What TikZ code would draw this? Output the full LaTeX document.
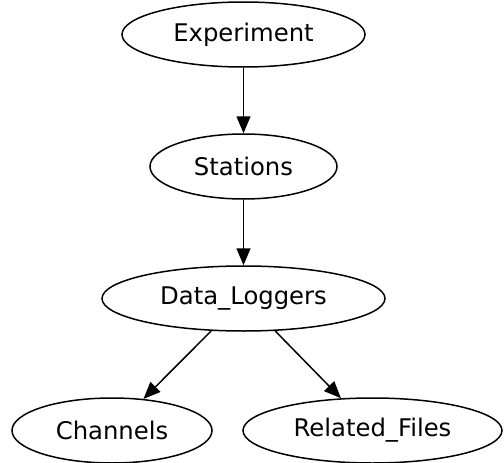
\documentclass[tikz,border=0pt]{standalone}
\usepackage{fontspec}
\setmainfont{DejaVu Sans}
\usetikzlibrary{shapes.geometric,arrows.meta}
\begin{document}
\begin{tikzpicture}[x=1pt,y=-1pt,
  nd/.style={ellipse,draw,line width=1.5pt,inner sep=0pt,minimum height=65pt,font=\fontsize{24.3}{28}\selectfont},
  edge/.style={line width=1.5pt,-{Triangle[length=17pt,width=14pt]}}]
\useasboundingbox (0,0) rectangle (504,463);
\node[nd,minimum width=243pt] (exp) at (243.5,34.5) {Experiment};
\node[nd,minimum width=187pt] (sta) at (243.5,166.5) {Stations};
\node[nd,minimum width=283pt] (dl) at (243.5,298.5) {Data\_Loggers};
\node[nd,minimum width=200pt] (ch) at (112,430.5) {Channels};
\node[nd,minimum width=259pt] (rf) at (372.5,430.5) {Related\_Files};
\draw[edge] (exp) -- (sta);
\draw[edge] (sta) -- (dl);
\draw[edge] (dl) -- (ch);
\draw[edge] (dl) -- (rf);
\end{tikzpicture}
\end{document}
